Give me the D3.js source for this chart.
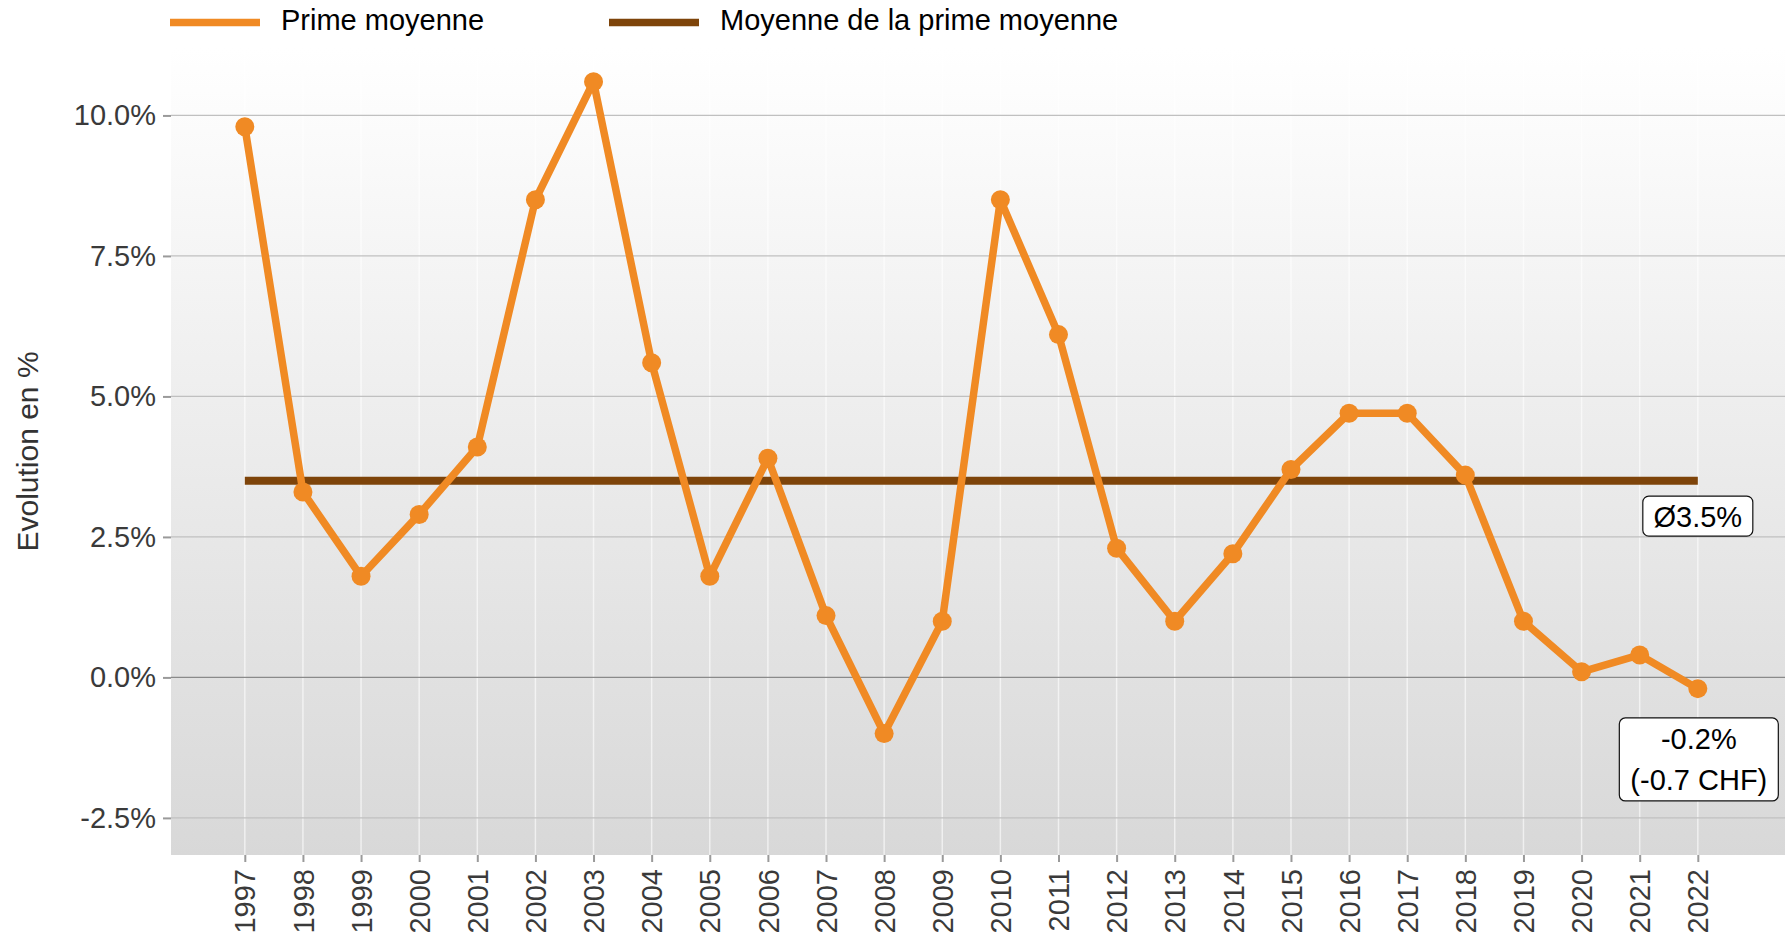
<!DOCTYPE html>
<html><head><meta charset="utf-8">
<script src="https://cdn.jsdelivr.net/npm/d3@7"></script>
<style>body{margin:0;background:#fff;} svg{display:block;font-family:"Liberation Sans",Arial,sans-serif;}</style>
</head><body>
<svg id="chart" width="1785" height="937"></svg>
<script>
const years = [1997,1998,1999,2000,2001,2002,2003,2004,2005,2006,2007,2008,2009,2010,2011,2012,2013,2014,2015,2016,2017,2018,2019,2020,2021,2022];
const primeMoyenne = [9.8,3.3,1.8,2.9,4.1,8.5,10.6,5.6,1.8,3.9,1.1,-1.0,1.0,8.5,6.1,2.3,1.0,2.2,3.7,4.7,4.7,3.6,1.0,0.1,0.4,-0.2];
const meanValue = 3.5;
const yTicks = [-2.5,0,2.5,5,7.5,10];
const yTickLabels = ["-2.5%","0.0%","2.5%","5.0%","7.5%","10.0%"];
const seriesNames = ["Prime moyenne","Moyenne de la prime moyenne"];
const meanLabel = "Ø3.5%";
const lastLabel = ["-0.2%","(-0.7 CHF)"];

const colOrange = "#F08A24", colBrown = "#7E440A";
const svg = d3.select("#chart");
const L = 171, R = 1785, T = 48, B = 855;

const x = d3.scaleLinear().domain([years[0]-1.27, years[years.length-1]+1.5]).range([L,R]);
const y = d3.scaleLinear().domain([-3.16, 11.2]).range([B,T]);

// background gradient
const defs = svg.append("defs");
const g = defs.append("linearGradient").attr("id","bg").attr("x1",0).attr("y1",0).attr("x2",0).attr("y2",1);
g.append("stop").attr("offset","0%").attr("stop-color","#ffffff");
g.append("stop").attr("offset","100%").attr("stop-color","#d8d8d8");
svg.append("rect").attr("x",L).attr("y",T).attr("width",R-L).attr("height",B-T).attr("fill","url(#bg)");

// vertical gridlines
svg.append("g").selectAll("line").data(years).join("line")
  .attr("x1",d=>x(d)).attr("x2",d=>x(d)).attr("y1",T).attr("y2",B)
  .attr("stroke","#ffffff").attr("stroke-opacity",0.6).attr("stroke-width",1.5);

// horizontal gridlines
svg.append("g").selectAll("line").data(yTicks).join("line")
  .attr("x1",L).attr("x2",R).attr("y1",d=>y(d)).attr("y2",d=>y(d))
  .attr("stroke",d=>d===0?"#8a8a8a":"#c0c0c0").attr("stroke-width",1.3);

// y axis
const yAxis = d3.axisLeft(y).tickValues(yTicks).tickSize(8).tickPadding(7)
  .tickFormat((d,i)=>yTickLabels[i]);
const ya = svg.append("g").attr("transform",`translate(${L},0)`).call(yAxis);
ya.select(".domain").remove();
ya.selectAll(".tick line").attr("stroke","#9a9a9a").attr("stroke-width",2);
ya.selectAll(".tick text").attr("fill","#3a3a3a").style("font-size","29px").style("font-family","'Liberation Sans',Arial,sans-serif");

// x axis
const xAxis = d3.axisBottom(x).tickValues(years).tickSize(7).tickFormat(d=>String(d));
const xa = svg.append("g").attr("transform",`translate(0,${B})`).call(xAxis);
xa.select(".domain").remove();
xa.selectAll(".tick line").attr("stroke","#9a9a9a").attr("stroke-width",2);
xa.selectAll(".tick text").attr("fill","#3a3a3a").style("font-size","29px").style("font-family","'Liberation Sans',Arial,sans-serif")
  .attr("transform","rotate(-90)").attr("text-anchor","end").attr("x",-14).attr("y",0).attr("dy","0.35em");

// axis title
svg.append("text").attr("transform",`translate(38,${(T+B)/2}) rotate(-90)`)
  .attr("text-anchor","middle").attr("fill","#333").style("font-size","30px").text("Evolution en %");

// mean line
svg.append("line").attr("x1",x(years[0])).attr("x2",x(years[years.length-1]))
  .attr("y1",y(meanValue)).attr("y2",y(meanValue))
  .attr("stroke",colBrown).attr("stroke-width",8);

// series line
const data = years.map((yr,i)=>({yr, v:primeMoyenne[i]}));
svg.append("path").datum(data)
  .attr("d", d3.line().x(d=>x(d.yr)).y(d=>y(d.v)))
  .attr("fill","none").attr("stroke",colOrange).attr("stroke-width",7.5).attr("stroke-linejoin","round");
svg.append("g").selectAll("circle").data(data).join("circle")
  .attr("cx",d=>x(d.yr)).attr("cy",d=>y(d.v)).attr("r",9.5).attr("fill",colOrange);

// labels
function labelBox(cx, cy, lines, w, h){
  const gL = svg.append("g");
  gL.append("rect").attr("x",cx-w/2).attr("y",cy-h/2).attr("width",w).attr("height",h)
    .attr("rx",6).attr("fill","#fff").attr("stroke","#111").attr("stroke-width",1.2);
  const lh = 41;
  lines.forEach((t,i)=>{
    gL.append("text").attr("x",cx).attr("y",cy + (i-(lines.length-1)/2)*lh).attr("dy","0.36em")
      .attr("text-anchor","middle").attr("fill","#000").style("font-size","29px").text(t);
  });
}
const lastYear = years[years.length-1];
labelBox(x(lastYear), y(meanValue-0.63), [meanLabel], 110, 40);
labelBox(x(lastYear)+1, y(primeMoyenne[primeMoyenne.length-1]-1.26), lastLabel, 159, 83);

// legend
const leg = svg.append("g");
const legItems = [{name:seriesNames[0], col:colOrange, x0:170},{name:seriesNames[1], col:colBrown, x0:609}];
legItems.forEach(it=>{
  leg.append("line").attr("x1",it.x0).attr("x2",it.x0+90).attr("y1",22.5).attr("y2",22.5)
    .attr("stroke",it.col).attr("stroke-width",7.5);
  leg.append("text").attr("x",it.x0+111).attr("y",30).attr("fill","#000").style("font-size","29px").text(it.name);
});
</script>
</body></html>
